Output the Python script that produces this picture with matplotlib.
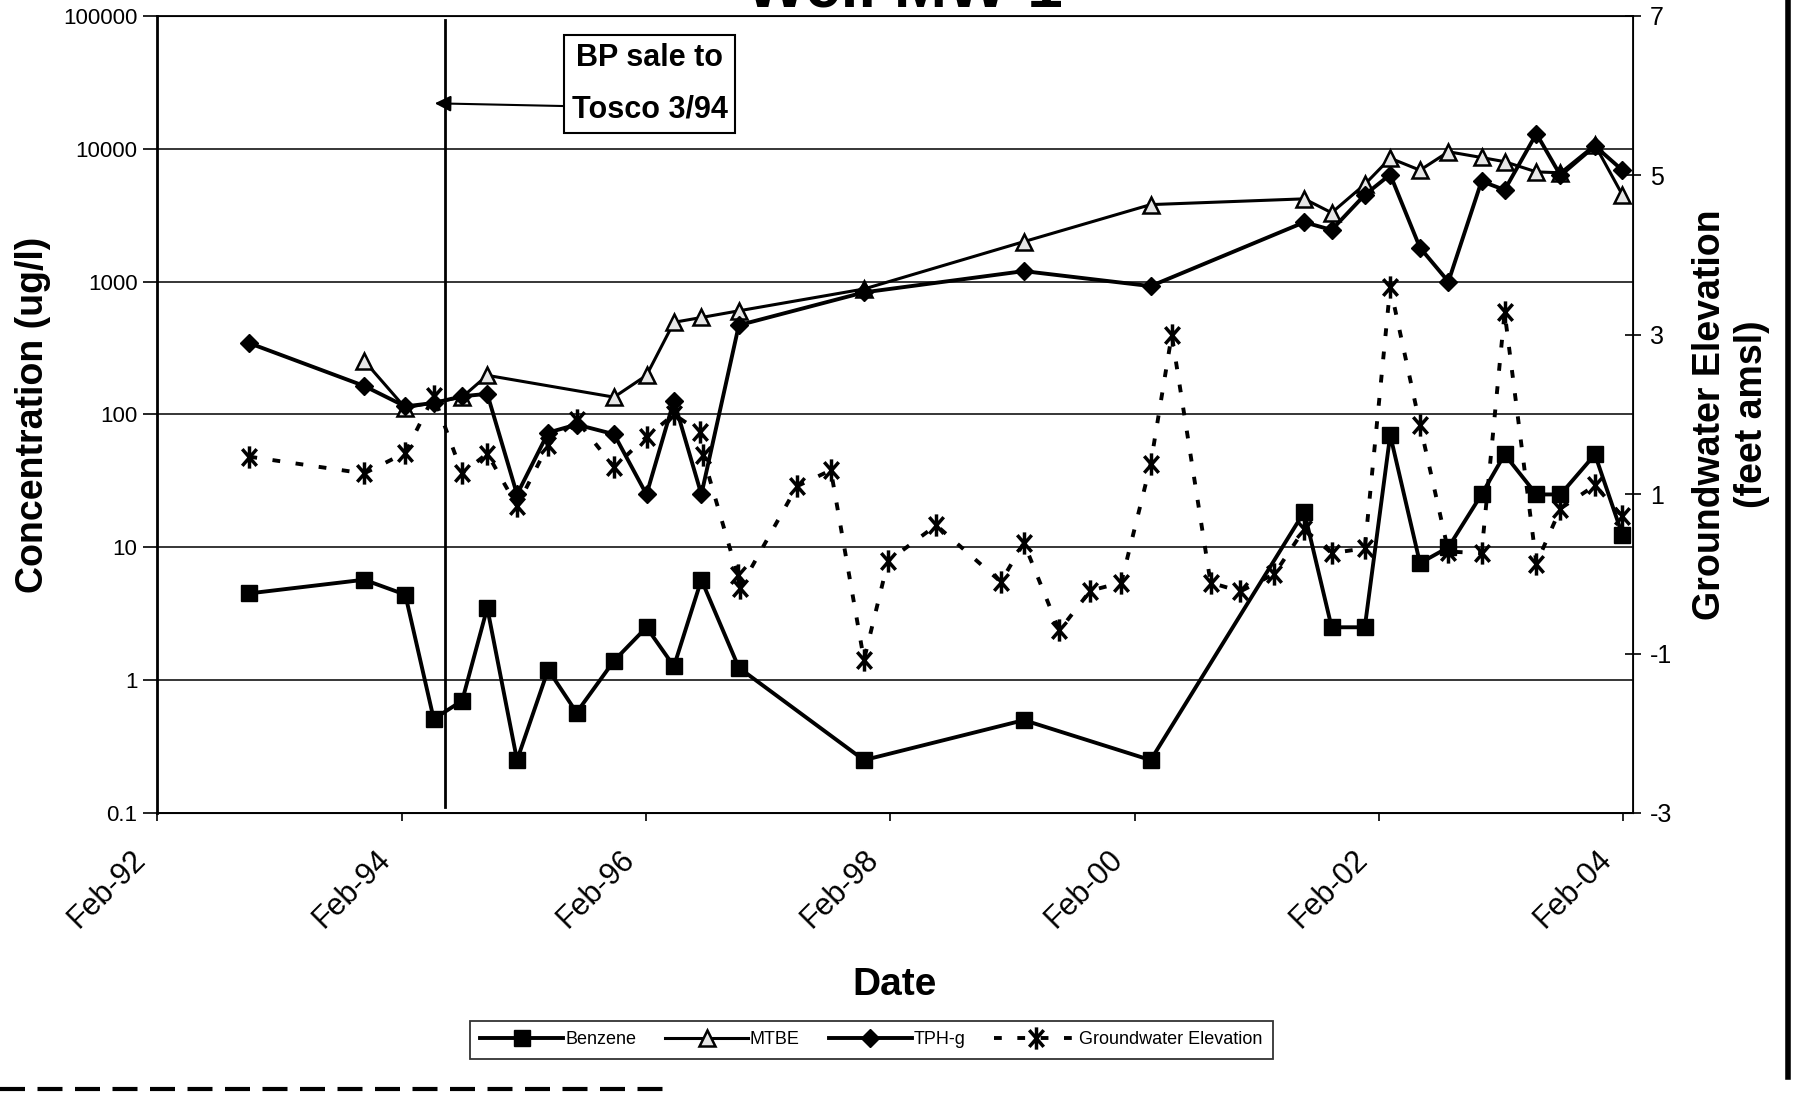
import matplotlib
matplotlib.use('Agg')
import matplotlib.pyplot as plt
import pandas as pd
from matplotlib.lines import Line2D
from matplotlib.path import Path
from matplotlib.ticker import NullLocator
from matplotlib.transforms import ScaledTranslation

plt.rcParams['font.family'] = ['Liberation Sans', 'DejaVu Sans']

#%% data
benz_dates = ['1992-11-03', '1993-10-12', '1994-02-12', '1994-05-08', '1994-08-01',
              '1994-10-15', '1995-01-12', '1995-04-15', '1995-07-09', '1995-10-29',
              '1996-02-03', '1996-04-25', '1996-07-16', '1996-11-05', '1997-11-14',
              '1999-03-07', '2000-03-20', '2001-06-22', '2001-09-12', '2001-12-20',
              '2002-03-06', '2002-06-03', '2002-08-27', '2002-12-04', '2003-02-11',
              '2003-05-17', '2003-07-28', '2003-11-08', '2004-01-29']
benzene = [4.5, 5.7, 4.4, 0.51, 0.70, 3.5, 0.25, 1.2, 0.57, 1.4,
           2.5, 1.27, 5.7, 1.24, 0.25, 0.5, 0.25, 18.5, 2.5, 2.5,
           70, 7.6, 10, 25, 50, 25, 25, 50, 12.4]

tph_dates = benz_dates
tph_g = [344, 164, 115, 122, 137, 143, 25, 73, 84, 71,
         25, 127, 25, 470, 830, 1200, 925, 2800, 2450, 4500,
         6400, 1800, 1000, 5700, 4900, 13000, 6300, 10500, 6900]

mtbe_dates = ['1993-10-12', '1994-02-12', '1994-08-01', '1994-10-15', '1995-10-29',
              '1996-02-03', '1996-04-25', '1996-07-16', '1996-11-05', '1997-11-14',
              '1999-03-07', '2000-03-20', '2001-06-22', '2001-09-12', '2001-12-20',
              '2002-03-06', '2002-06-03', '2002-08-27', '2002-12-04', '2003-02-11',
              '2003-05-17', '2003-07-28', '2003-11-08', '2004-01-29']
mtbe = [254, 112, 135, 197, 135, 197, 494, 537, 603, 880,
        2000, 3800, 4200, 3300, 5400, 8500, 6900, 9500, 8600, 8000,
        6700, 6600, 10700, 4500]

gw_dates = ['1992-11-03', '1993-10-12', '1994-02-12', '1994-05-08', '1994-08-01',
            '1994-10-15', '1995-01-12', '1995-04-15', '1995-07-09', '1995-10-29',
            '1996-02-03', '1996-04-25', '1996-07-12', '1996-07-20', '1996-11-02',
            '1996-11-08', '1997-04-28', '1997-08-07', '1997-11-14', '1998-01-25',
            '1998-06-18', '1998-12-28', '1999-03-07', '1999-06-21', '1999-09-22',
            '1999-12-23', '2000-03-20', '2000-05-22', '2000-09-15', '2000-12-13',
            '2001-03-25', '2001-06-22', '2001-09-12', '2001-12-20', '2002-03-06',
            '2002-06-03', '2002-08-27', '2002-12-04', '2003-02-11', '2003-05-17',
            '2003-07-28', '2003-11-08', '2004-01-29']
gw_elev = [1.47, 1.26, 1.52, 2.23, 1.26, 1.51, 0.85, 1.62, 1.93, 1.34,
           1.72, 2.0, 1.78, 1.49, -0.02, -0.18, 1.10, 1.30, -1.08, 0.16,
           0.61, -0.10, 0.39, -0.71, -0.21, -0.11, 1.38, 3.0, -0.11, -0.22,
           0.0, 0.56, 0.26, 0.32, 3.60, 1.87, 0.28, 0.26, 3.28, 0.13,
           0.82, 1.11, 0.72]

conc_ticks = [0.1, 1, 10, 100, 1000, 10000, 100000]
conc_labels = ['0.1', '1', '10', '100', '1000', '10000', '100000']
gw_ticks = [-3, -1, 1, 3, 5, 7]
x_ticks = ['1992-02-01', '1994-02-01', '1996-02-01', '1998-02-01',
           '2000-02-01', '2002-02-01', '2004-02-01']
x_labels = ['Feb-92', 'Feb-94', 'Feb-96', 'Feb-98', 'Feb-00', 'Feb-02', 'Feb-04']

sale_date = '1994-06-12'
arrow_tip = '1994-05-11'

# asterisk: vertical bar plus an X
star = Path([(0, -1), (0, 1), (-0.65, -0.75), (0.65, 0.75), (-0.65, 0.75), (0.65, -0.75)],
            [Path.MOVETO, Path.LINETO, Path.MOVETO, Path.LINETO, Path.MOVETO, Path.LINETO])

#%%
fig = plt.figure(figsize=(17.95, 10.93), dpi=100)
ax = fig.add_axes([0.0875, 0.2562, 0.8223, 0.7292])
ax2 = ax.twinx()
ax.set_zorder(ax2.get_zorder() + 1)
ax.patch.set_visible(False)

# groundwater on the right axis
ax2.plot(pd.to_datetime(gw_dates), gw_elev, color='black', lw=2.8,
         linestyle=(0, (2, 4)), marker=star, ms=16, mew=2.5,
         label='Groundwater Elevation')

ax.plot(pd.to_datetime(mtbe_dates), mtbe, color='black', lw=2.2,
        marker='^', ms=11, mfc='#e6e6e6', mec='black', mew=1.8, label='MTBE')
ax.plot(pd.to_datetime(tph_dates), tph_g, color='black', lw=2.8,
        marker='D', ms=9, label='TPH-g')
ax.plot(pd.to_datetime(benz_dates), benzene, color='black', lw=2.8,
        marker='s', ms=12, label='Benzene')

ax.set_yscale('log')
ax.set_ylim(0.1, 100000)
ax.set_yticks(conc_ticks, labels=conc_labels, fontsize=16)
ax.yaxis.set_minor_locator(NullLocator())
ax.grid(axis='y', color='black', lw=1.1)
ax.set_xlim(pd.Timestamp('1992-02-01'), pd.Timestamp('2004-03-01'))
ax.set_xticks(pd.to_datetime(x_ticks), labels=x_labels, rotation=45, ha='right',
              va='center', rotation_mode='anchor', fontsize=22)
ax.xaxis.set_minor_locator(NullLocator())
ax.tick_params(axis='x', direction='out', length=6, width=1.2, pad=0)
ax.tick_params(axis='y', direction='out', length=10, width=1.2, pad=4)
shift = ScaledTranslation(-0.16, -0.34, fig.dpi_scale_trans)
for lab in ax.get_xticklabels():
    lab.set_transform(lab.get_transform() + shift)
for s in ax.spines.values():
    s.set_linewidth(1.3)
ax.spines['left'].set_linewidth(2)

ax2.set_ylim(-3, 7)
ax2.set_yticks(gw_ticks, labels=[str(t) for t in gw_ticks], fontsize=18)
ax2.tick_params(axis='y', direction='inout', length=12, width=1.2, pad=6)

ax.set_ylabel('Concentration (ug/l)', fontsize=27, fontweight='bold')
ax.yaxis.set_label_coords(-0.072, 0.5)
ax2.set_ylabel('Groundwater Elevation\n(feet amsl)', fontsize=27, fontweight='bold')
ax2.yaxis.set_label_coords(1.040, 0.5)
fig.text(0.4986, 0.0988, 'Date', fontsize=28, fontweight='bold', ha='center', va='center')
fig.text(0.504, 0.9945, 'Well MW-1', fontsize=46, fontweight='bold', ha='center', va='baseline')

# property sale marker
ax.axvline(pd.Timestamp(sale_date), ymin=0.0075, ymax=0.995, color='black', lw=2)
ax.annotate('', xy=(pd.Timestamp(arrow_tip), 22000), xycoords='data',
            xytext=(0.275, 0.887), textcoords='axes fraction',
            arrowprops=dict(arrowstyle='-|>', lw=1.5, color='black',
                            mutation_scale=24, shrinkA=0, shrinkB=0))
ax.text(0.3337, 0.9147, 'BP sale to\nTosco 3/94', transform=ax.transAxes,
        ha='center', va='center', fontsize=22, fontweight='bold', linespacing=1.95,
        bbox=dict(boxstyle='square,pad=0.25', fc='white', ec='black', lw=1.5))

h1, l1 = ax.get_legend_handles_labels()
h2, l2 = ax2.get_legend_handles_labels()
order = [2, 0, 1]
handles = [h1[i] for i in order] + h2
labels = [l1[i] for i in order] + l2
leg = fig.legend(handles, labels, loc='center', bbox_to_anchor=(0.4855, 0.0485),
                 ncol=4, fontsize=13, frameon=True, fancybox=False, edgecolor='black',
                 handlelength=4.6, columnspacing=1.6, handletextpad=0.1, borderpad=0.6)
leg.get_frame().set_linewidth(1.3)

# scan edges of the page
fig.add_artist(Line2D([0.9962, 0.9962], [0.015, 1.0], transform=fig.transFigure,
                      color='black', lw=4))
fig.add_artist(Line2D([0.0, 0.37], [0.004, 0.004], transform=fig.transFigure,
                      color='black', lw=3, linestyle=(0, (6, 3))))

fig.savefig('out.png', dpi=100)
